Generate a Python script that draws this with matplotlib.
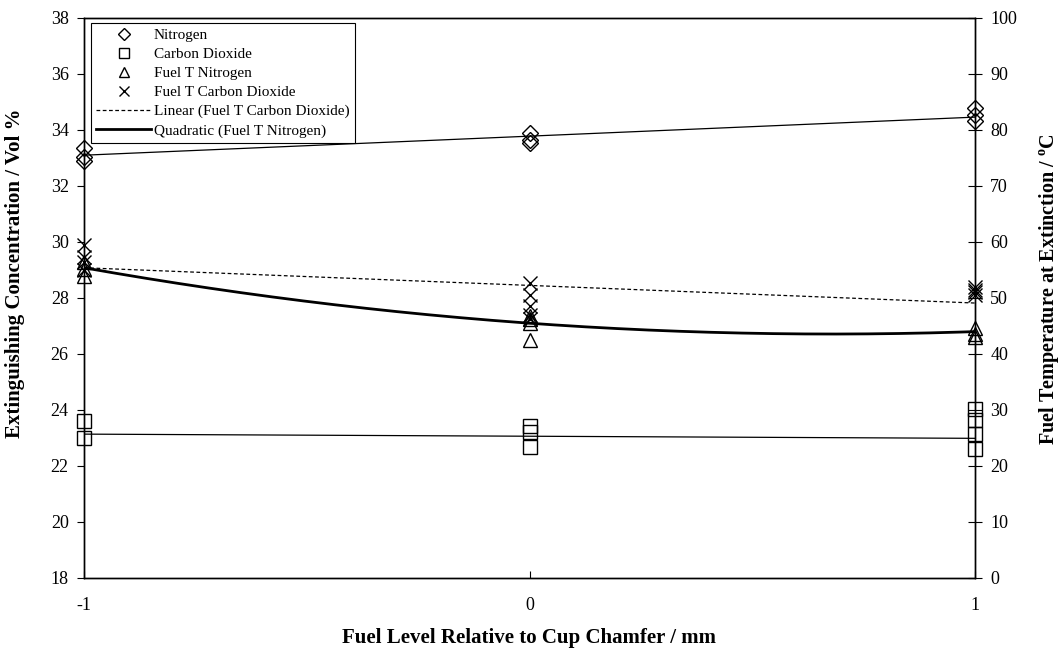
import numpy as np
import matplotlib
matplotlib.use("Agg")
import matplotlib.pyplot as plt
from matplotlib.lines import Line2D

plt.rcParams['font.family'] = ['Liberation Serif', 'DejaVu Serif']
plt.rcParams['mathtext.fontset'] = 'custom'
plt.rcParams['mathtext.rm'] = 'Liberation Serif'
plt.rcParams['mathtext.bf'] = 'Liberation Serif:bold'

# ---- data ----
x_ticks = [-1, 0, 1]

nitrogen_x = [-1, -1, -1, 0, 0, 0, 1, 1, 1]
nitrogen_y = [33.35, 33.05, 32.9, 33.88, 33.65, 33.55, 34.78, 34.54, 34.32]

co2_x = [-1, -1, 0, 0, 0, 1, 1, 1, 1]
co2_y = [23.62, 22.99, 23.44, 23.2, 22.69, 24.05, 23.65, 23.15, 22.6]

fuelT_n2_x = [-1, -1, -1, 0, 0, 0, 0, 1, 1, 1]
fuelT_n2_y = [56.5, 55.25, 54.0, 46.8, 46.2, 45.5, 42.5, 44.6, 43.6, 43.0]

fuelT_co2_x = [-1, -1, -1, -1, 0, 0, 0, 0, 0, 1, 1, 1, 1]
fuelT_co2_y = [59.5, 57.3, 56.4, 55.0, 52.7, 50.5, 48.5, 47.0, 46.2, 52.0, 51.5, 51.0, 50.5]

# trend line values read at x = -1, 0, 1
nitrogen_trend = [33.1, 33.78, 34.46]
co2_trend = [23.14, 23.06, 22.99]
fuelT_co2_trend = [55.4, 52.25, 49.1]
fuelT_n2_trend = [55.4, 45.5, 44.0]

# ---- figure ----
fig = plt.figure(figsize=(10.61, 6.57), dpi=100)
ax = fig.add_axes([84/1061, 1-578/657, (975-84)/1061, (578-18)/657])
ax2 = ax.twinx()

mk = dict(linestyle='none', markerfacecolor='none', markeredgecolor='black',
          markeredgewidth=1.0, color='black')

xs = np.linspace(-1, 1, 200)
c_n = np.polyfit(x_ticks, nitrogen_trend, 1)
c_c = np.polyfit(x_ticks, co2_trend, 1)
c_tc = np.polyfit(x_ticks, fuelT_co2_trend, 1)
c_tn = np.polyfit(x_ticks, fuelT_n2_trend, 2)

ax.plot(xs, np.polyval(c_n, xs), color='black', lw=0.9)
ax.plot(xs, np.polyval(c_c, xs), color='black', lw=0.9)
ax.plot(nitrogen_x, nitrogen_y, marker='D', markersize=8.5, clip_on=False, **mk)
ax.plot(co2_x, co2_y, marker='s', markersize=10.5, clip_on=False, **mk)

ax2.plot(fuelT_n2_x, fuelT_n2_y, marker='^', markersize=10.5, clip_on=False, **mk)
ax2.plot(fuelT_co2_x, fuelT_co2_y, marker='x', markersize=10.5, clip_on=False, **mk)
ax2.plot(xs, np.polyval(c_tc, xs), color='black', lw=0.9, dashes=(3, 2))
ax2.plot(xs, np.polyval(c_tn, xs), color='black', lw=2.0)

ax.set_xlim(-1, 1)
ax.set_ylim(18, 38)
ax2.set_ylim(0, 100)
ax.set_xticks(x_ticks)
ax.set_xticklabels(['-1', '0', '1'])
ax.set_yticks(np.arange(18, 39, 2))
ax2.set_yticks(np.arange(0, 101, 10))

ax.tick_params(axis='x', direction='in', length=5, width=0.8, pad=14, labelsize=13)
ax.tick_params(axis='y', direction='out', length=5, width=0.8, pad=6, labelsize=13)
ax2.tick_params(axis='y', direction='inout', length=10, width=0.8, pad=6, labelsize=13)

for a in (ax, ax2):
    for s in a.spines.values():
        s.set_linewidth(1.0)
        s.set_color('black')

ax.set_xlabel('Fuel Level Relative to Cup Chamfer / mm', fontsize=15, fontweight='bold')
ax.xaxis.set_label_coords(0.5, -0.09)
ax.set_ylabel('Extinguishing Concentration / Vol %', fontsize=15, fontweight='bold')
ax.yaxis.set_label_coords(-0.066, 0.545)
ax2.set_ylabel(r'Fuel Temperature at Extinction / $^{\mathbf{o}}$C', fontsize=14.5,
               fontweight='bold', rotation=90)
ax2.yaxis.set_label_coords(1.07, 0.515)

handles = [
    Line2D([], [], marker='D', markersize=8.5, **mk),
    Line2D([], [], marker='s', markersize=10.5, **mk),
    Line2D([], [], marker='^', markersize=10.5, **mk),
    Line2D([], [], marker='x', markersize=10.5, **mk),
    Line2D([], [], color='black', lw=0.9, dashes=(3, 2)),
    Line2D([], [], color='black', lw=2.0),
]
labels = ['Nitrogen', 'Carbon Dioxide', 'Fuel T Nitrogen', 'Fuel T Carbon Dioxide',
          'Linear (Fuel T Carbon Dioxide)', 'Quadratic (Fuel T Nitrogen)']
leg = ax2.legend(handles, labels, loc='upper left', bbox_to_anchor=(0.008, 0.991),
                 borderaxespad=0, fontsize=11, markerscale=0.75, handlelength=3.6,
                 handletextpad=0.15, labelspacing=0.35, frameon=True, fancybox=False,
                 edgecolor='black', framealpha=1, borderpad=0.35)
leg.get_frame().set_linewidth(0.8)

fig.savefig('out.png', dpi=100)
